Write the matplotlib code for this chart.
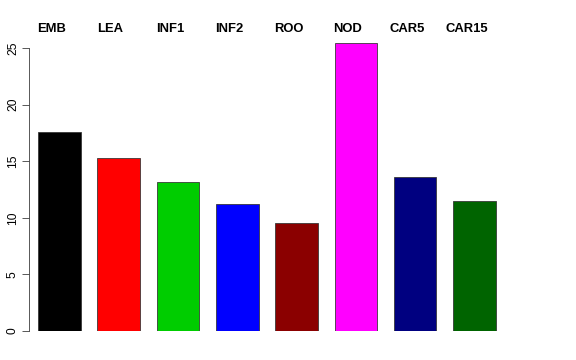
import numpy as np
import matplotlib.pyplot as plt

labels = ["EMB", "LEA", "INF1", "INF2", "ROO", "NOD", "CAR5", "CAR15"]
values = [17.55, 15.26, 13.15, 11.25, 9.55, 25.47, 13.58, 11.48]
colors = ["#000000", "#FF0000", "#00CD00", "#0000FF", "#8B0000", "#FF00FF", "#000080", "#006400"]

plt.rcParams['font.family'] = ['Liberation Sans', 'DejaVu Sans']

fig = plt.figure(figsize=(8, 5), dpi=72)
# y axis at 29px, y=0 at 331px, top of axes at 34px, right edge at 519px
ax = fig.add_axes([29/576, 29/360, (519-29)/576, (331-34)/360])

x = 0.7 + 1.2 * np.arange(len(labels))
ax.bar(x, values, width=0.86, color=colors, edgecolor="#333333", linewidth=0.8)
ax.set_xlim(0.087, 10.0)
ax.set_ylim(0, 25 + 14/11.32)

# labels sit a bit left of the bar centres
for xi, lab in zip(x, labels):
    ax.text(xi - 0.165, 26.68, lab, ha="center", va="center", fontsize=13,
            fontweight="bold", clip_on=False)

for s in ["top", "right", "bottom"]:
    ax.spines[s].set_visible(False)
ax.spines["left"].set_bounds(0, 25)
ax.spines["left"].set_color("#333333")
ax.set_xticks([])
ax.set_yticks([0, 5, 10, 15, 20, 25])
ax.tick_params(axis="y", length=7, labelsize=12, pad=3, color="#333333")
for t in ax.get_yticklabels():
    t.set_rotation(90)
    t.set_va("center")

fig.savefig("out.png", dpi=72)
